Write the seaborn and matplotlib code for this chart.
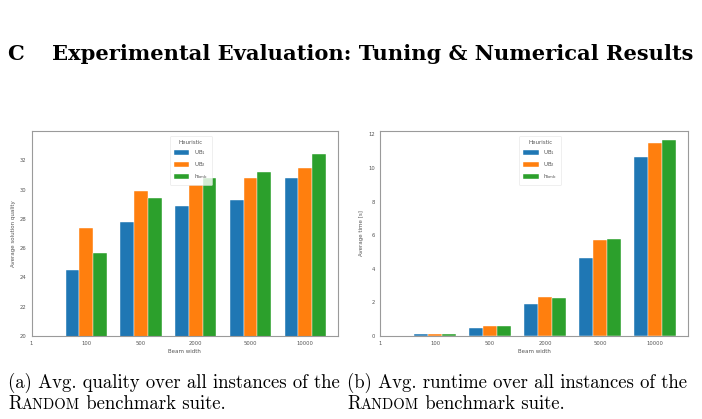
import seaborn as sns
import pandas as pd
import matplotlib.pyplot as plt

beam_widths = ['1', '100', '500', '2000', '5000', '10000']
bar_widths = ['100', '500', '2000', '5000', '10000']
heuristics = ['UB$_1$', 'UB$_2$', 'h$_{\\mathrm{bmb}}$']

quality_ub1 = [24.5, 27.8, 28.9, 29.3, 30.8]
quality_ub2 = [27.35, 29.9, 30.3, 30.8, 31.45]
quality_h = [25.7, 29.4, 30.8, 31.2, 32.45]

time_ub1 = [0.10, 0.49, 1.89, 4.66, 10.65]
time_ub2 = [0.13, 0.60, 2.32, 5.70, 11.47]
time_h = [0.13, 0.60, 2.26, 5.76, 11.65]


def to_frame(a, b, c):
    rows = []
    for name, vals in zip(heuristics, [a, b, c]):
        for w, v in zip(bar_widths, vals):
            rows.append({'Beam width': w, 'Heuristic': name, 'value': v})
    return pd.DataFrame(rows)


df_q = to_frame(quality_ub1, quality_ub2, quality_h)
df_t = to_frame(time_ub1, time_ub2, time_h)

sns.set_style('white')
plt.rcParams['font.family'] = ['DejaVu Sans']
palette = ['#1f77b4', '#ff7f0e', '#2ca02c']
txt = '#555555'

W, H = 702, 419
fig = plt.figure(figsize=(7.02, 4.19), dpi=100)
ax1 = fig.add_axes([0.0449, 0.198, 0.4366, 0.4893])
ax2 = fig.add_axes([0.5413, 0.198, 0.4387, 0.4893])

for ax, df, ylabel in [(ax1, df_q, 'Average solution quality'),
                       (ax2, df_t, 'Average time [s]')]:
    sns.barplot(data=df, x='Beam width', y='value', hue='Heuristic',
                order=beam_widths, palette=palette, saturation=1, width=0.75,
                edgecolor='white', linewidth=0.3, ax=ax)
    ax.set_xlim(0, 5.6)
    ax.set_ylabel(ylabel, fontsize=4, color=txt, labelpad=3)
    ax.set_xlabel('Beam width', fontsize=4, color=txt, labelpad=2)
    ax.tick_params(labelsize=3.8, colors=txt, length=1.5, width=0.4, pad=2)
    for s in ax.spines.values():
        s.set_color('#9a9a9a')
        s.set_linewidth(0.8)
    leg = ax.legend(title='Heuristic', loc='upper center',
                    bbox_to_anchor=(0.52, 0.99), fontsize=4, title_fontsize=4,
                    handlelength=2.8, handleheight=1.1, labelspacing=0.6,
                    borderpad=0.7, handletextpad=0.8, frameon=True)
    leg.get_frame().set_linewidth(0.4)
    leg.get_frame().set_edgecolor('#dddddd')
    for t in leg.get_texts():
        t.set_color(txt)
    leg.get_title().set_color(txt)

ax1.set_ylim(20, 34)
ax1.set_yticks([20, 22, 24, 26, 28, 30, 32])
ax2.set_ylim(0, 12.2)
ax2.set_yticks([0, 2, 4, 6, 8, 10, 12])

fig.canvas.draw()
renderer = fig.canvas.get_renderer()


def fitted_size(s, family, weight, target_px):
    t = fig.text(0, 0, s, fontsize=10, family=family, fontweight=weight)
    w = t.get_window_extent(renderer).width
    t.remove()
    return 10 * target_px / w


def put(x_px, y_px, s, size, family, weight='normal'):
    t = fig.text(x_px / W, 1 - y_px / H, s, fontsize=size, family=family,
                 fontweight=weight, va='baseline', color='black')
    return t.get_window_extent(renderer).x1


head = 'Experimental Evaluation: Tuning & Numerical Results'
hfam = ['DejaVu Serif']
hs = fitted_size(head, hfam, 'bold', 643)
put(7, 60, 'C', hs, hfam, 'bold')
put(52, 60, head, hs, hfam, 'bold')

cfam = ['cmr10', 'DejaVu Serif']
line_a = '(a) Avg. quality over all instances of the'
line_b = '(b) Avg. runtime over all instances of the'
cs = fitted_size(line_a, cfam, 'normal', 332)


def caption(x_px, first):
    put(x_px, 388, first, cs, cfam)
    x1 = put(x_px, 409, 'R', cs, cfam)
    x2 = put(x1, 409, 'ANDOM', cs * 0.78, cfam)
    put(x2, 409, ' benchmark suite.', cs, cfam)


caption(8, line_a)
caption(347, line_b)

plt.savefig('out.png', dpi=100)
